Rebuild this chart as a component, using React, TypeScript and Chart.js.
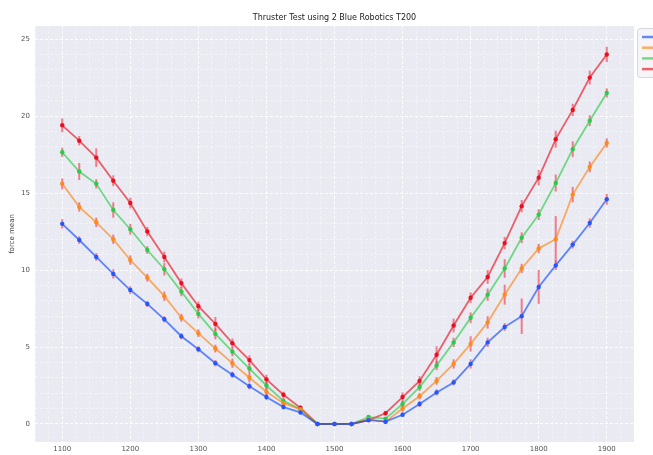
import React, { useEffect, useRef } from "react";
import { Chart, registerables } from "chart.js";

Chart.register(...registerables);

// PWM command (µs)
const rpm = [1100, 1125, 1150, 1175, 1200, 1225, 1250, 1275, 1300, 1325, 1350, 1375, 1400, 1425, 1450, 1475, 1500, 1525, 1550, 1575, 1600, 1625, 1650, 1675, 1700, 1725, 1750, 1775, 1800, 1825, 1850, 1875, 1900];

const seriesNames = ["10", "12", "14", "16"];

const forceA = [13.0, 11.95, 10.85, 9.75, 8.7, 7.8, 6.8, 5.7, 4.85, 3.95, 3.2, 2.45, 1.75, 1.1, 0.75, 0, 0, 0, 0.25, 0.15, 0.6, 1.3, 2.05, 2.7, 3.9, 5.3, 6.3, 7.0, 8.9, 10.3, 11.65, 13.05, 14.6];
const forceB = [15.6, 14.1, 13.1, 12.0, 10.65, 9.5, 8.3, 6.9, 5.9, 4.9, 3.95, 3.0, 2.1, 1.35, 0.95, 0, 0, 0, 0.3, 0.15, 1.0, 1.8, 2.8, 3.9, 5.2, 6.6, 8.4, 10.1, 11.4, 12.0, 14.9, 16.7, 18.25];
const forceC = [17.65, 16.4, 15.6, 13.9, 12.65, 11.3, 10.05, 8.6, 7.15, 5.85, 4.7, 3.6, 2.5, 1.5, 0.95, 0, 0, 0, 0.45, 0.35, 1.3, 2.4, 3.8, 5.3, 6.9, 8.4, 10.1, 12.1, 13.6, 15.65, 17.85, 19.7, 21.5];
const forceD = [19.4, 18.4, 17.3, 15.8, 14.35, 12.5, 10.85, 9.15, 7.65, 6.5, 5.25, 4.15, 2.9, 1.9, 1.05, 0, 0, 0, 0.25, 0.7, 1.75, 2.8, 4.5, 6.4, 8.2, 9.55, 11.75, 14.15, 16.0, 18.5, 20.4, 22.5, 24.0];

// half-length of the error bars
const errA = [0.3, 0.25, 0.25, 0.3, 0.25, 0.2, 0.2, 0.2, 0.2, 0.2, 0.2, 0.2, 0.2, 0.15, 0.1, 0.05, 0.05, 0.05, 0.1, 0.1, 0.15, 0.2, 0.2, 0.2, 0.3, 0.3, 0.25, 1.15, 1.1, 0.3, 0.25, 0.3, 0.35];
const errB = [0.35, 0.3, 0.3, 0.3, 0.3, 0.25, 0.3, 0.25, 0.25, 0.25, 0.3, 0.3, 0.25, 0.2, 0.15, 0.05, 0.05, 0.05, 0.1, 0.1, 0.2, 0.2, 0.25, 0.3, 0.5, 0.4, 0.65, 0.3, 0.3, 1.5, 0.5, 0.35, 0.3];
const errC = [0.3, 0.55, 0.3, 0.5, 0.35, 0.25, 0.4, 0.3, 0.3, 0.35, 0.3, 0.3, 0.25, 0.2, 0.15, 0.05, 0.05, 0.05, 0.1, 0.1, 0.2, 0.25, 0.3, 0.3, 0.35, 0.4, 0.6, 0.35, 0.35, 0.55, 0.5, 0.35, 0.3];
const errD = [0.45, 0.3, 0.6, 0.35, 0.35, 0.3, 0.35, 0.3, 0.3, 0.45, 0.3, 0.3, 0.3, 0.2, 0.15, 0.05, 0.05, 0.05, 0.1, 0.15, 0.3, 0.3, 0.55, 0.45, 0.35, 0.45, 0.4, 0.4, 0.5, 0.55, 0.4, 0.45, 0.5];

const lineColors = ["rgba(2,62,255,0.6)", "rgba(255,124,0,0.6)", "rgba(26,201,56,0.6)", "rgba(232,0,11,0.6)"];
const pointColors = ["#2456ff", "#ff8a1c", "#2ec94a", "#ea1020"];

const seriesValues = [forceA, forceB, forceC, forceD];
const seriesErrors = [errA, errB, errC, errD];

const isInt = (v: number) => Math.abs(v - Math.round(v)) < 1e-6;

const bgPlugin = {
  id: "plotBg",
  beforeDraw(chart: any) {
    const { ctx, chartArea } = chart;
    ctx.save();
    ctx.fillStyle = "#eaeaf3";
    ctx.fillRect(chartArea.left, chartArea.top, chartArea.right - chartArea.left, chartArea.bottom - chartArea.top);
    ctx.restore();
  },
};

const errorBarPlugin = {
  id: "errorBars",
  beforeDatasetsDraw(chart: any) {
    const { ctx } = chart;
    const xs = chart.scales.x;
    const ys = chart.scales.y;
    ctx.save();
    ctx.strokeStyle = "rgba(238,50,66,0.6)";
    ctx.lineWidth = 2;
    seriesValues.forEach((vals, si) => {
      const errs = seriesErrors[si];
      vals.forEach((v, i) => {
        const x = xs.getPixelForValue(rpm[i]);
        ctx.beginPath();
        ctx.moveTo(x, ys.getPixelForValue(v - errs[i]));
        ctx.lineTo(x, ys.getPixelForValue(v + errs[i]));
        ctx.stroke();
      });
    });
    ctx.restore();
  },
};

const legendBoxPlugin = {
  id: "legendBox",
  afterDraw(chart: any) {
    const { ctx, chartArea } = chart;
    const x0 = chartArea.right + 3;
    const y0 = chartArea.top + 2;
    ctx.save();
    ctx.fillStyle = "rgba(244,244,247,0.95)";
    ctx.strokeStyle = "#d6d6dc";
    ctx.lineWidth = 1;
    ctx.beginPath();
    (ctx as any).roundRect(x0 + 0.5, y0 + 0.5, 120, 49, 3);
    ctx.fill();
    ctx.stroke();
    chart.data.datasets.forEach((ds: any, i: number) => {
      const y = y0 + 9 + i * 10.7;
      ctx.strokeStyle = ds.borderColor;
      ctx.lineWidth = 2.5;
      ctx.beginPath();
      ctx.moveTo(x0 + 5, y);
      ctx.lineTo(x0 + 25, y);
      ctx.stroke();
      ctx.fillStyle = "#333";
      ctx.font = "7px 'DejaVu Sans'";
      ctx.textBaseline = "middle";
      ctx.fillText(ds.label, x0 + 30, y);
    });
    ctx.restore();
  },
};

export default function App() {
  const canvasRef = useRef<HTMLCanvasElement | null>(null);

  useEffect(() => {
    if (!canvasRef.current) return;
    const chart = new Chart(canvasRef.current, {
      type: "line",
      data: {
        datasets: seriesValues.map((vals, si) => ({
          label: seriesNames[si],
          data: rpm.map((x, i) => ({ x, y: vals[i] })),
          borderColor: lineColors[si],
          backgroundColor: pointColors[si],
          pointBackgroundColor: pointColors[si],
          pointBorderColor: pointColors[si],
          pointRadius: 2.2,
          pointBorderWidth: 0,
          borderWidth: 1.8,
          tension: 0,
        })),
      },
      options: {
        responsive: false,
        animation: false,
        layout: { padding: { left: 0, right: 19, top: 0, bottom: 0 } },
        plugins: {
          legend: { display: false },
          tooltip: { enabled: false },
          title: {
            display: true,
            text: "Thruster Test using 2 Blue Robotics T200",
            fullSize: false,
            color: "#222",
            font: { family: "'DejaVu Sans'", size: 8, weight: "normal" },
            padding: { top: 13, bottom: 3.4 },
          },
        },
        scales: {
          x: {
            type: "linear",
            min: 1060,
            max: 1940,
            afterFit: (s: any) => {
              s.height = 13;
            },
            ticks: {
              stepSize: 20,
              autoSkip: false,
              maxTicksLimit: 200,
              maxRotation: 0,
              padding: 3,
              color: "#555",
              font: { family: "'DejaVu Sans'", size: 7 },
              callback: (v: any) => (isInt(v / 100) ? String(v) : ""),
            },
            grid: {
              drawTicks: false,
              lineWidth: (c: any) => (c.tick && isInt(c.tick.value / 100) ? 1 : 0.8),
              color: (c: any) =>
                c.tick && isInt(c.tick.value / 100) ? "rgba(255,255,255,0.95)" : "rgba(255,255,255,0.5)",
            },
            border: { display: false, dash: [3, 2] },
          },
          y: {
            type: "linear",
            min: -1.17,
            max: 25.85,
            afterFit: (s: any) => {
              s.width = 35;
            },
            title: {
              display: true,
              text: "force mean",
              color: "#444",
              font: { family: "'DejaVu Sans'", size: 7 },
              padding: { top: 8, bottom: 0 },
            },
            ticks: {
              stepSize: 1,
              autoSkip: false,
              maxTicksLimit: 200,
              padding: 5,
              color: "#555",
              font: { family: "'DejaVu Sans'", size: 7 },
              callback: (v: any) => (isInt(v) && Math.round(v) % 5 === 0 ? String(Math.round(v)) : ""),
            },
            grid: {
              drawTicks: false,
              lineWidth: (c: any) => (c.tick && isInt(c.tick.value) && Math.round(c.tick.value) % 5 === 0 ? 1 : 0.8),
              color: (c: any) => {
                if (!c.tick || !isInt(c.tick.value)) return "rgba(255,255,255,0)";
                return Math.round(c.tick.value) % 5 === 0 ? "rgba(255,255,255,0.95)" : "rgba(255,255,255,0.5)";
              },
            },
            border: { display: false, dash: [3, 2] },
          },
        },
      },
      plugins: [bgPlugin, errorBarPlugin, legendBoxPlugin],
    } as any);
    return () => chart.destroy();
  }, []);

  return (
    <div style={{ position: "absolute", left: 0, top: 0, width: 653, height: 455, overflow: "hidden", background: "#fff" }}>
      <canvas ref={canvasRef} width={653} height={455} style={{ display: "block" }} />
    </div>
  );
}
